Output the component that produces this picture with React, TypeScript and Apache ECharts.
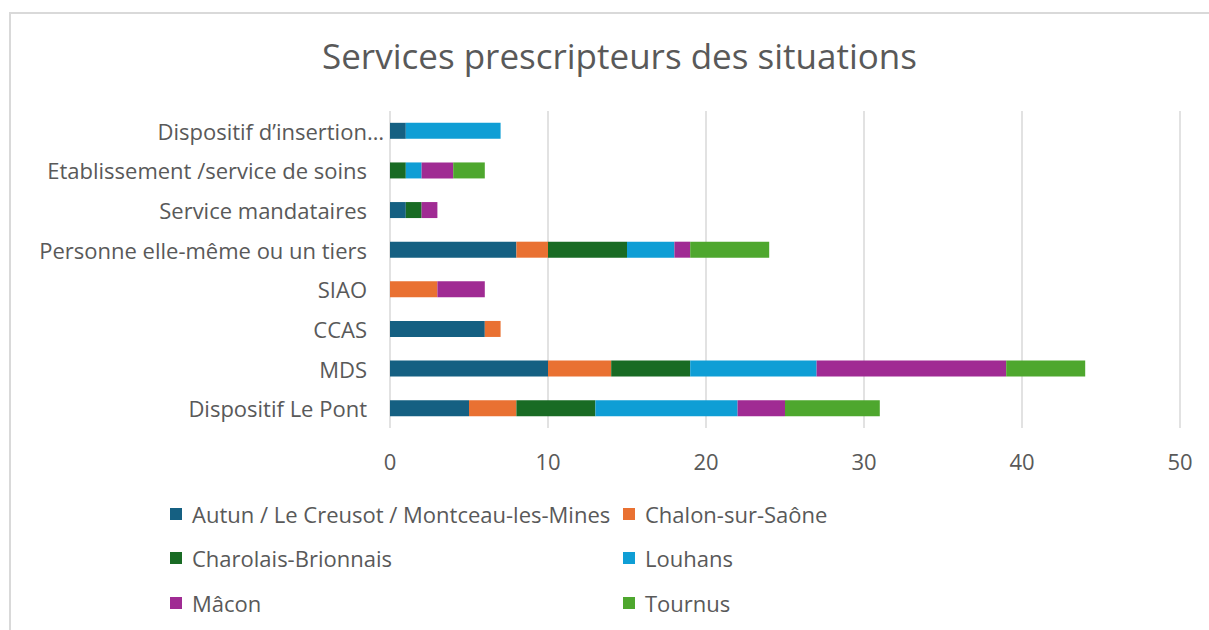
import React, { useEffect, useRef } from "react";
import * as echarts from "echarts";

const categories = [
  "Dispositif Le Pont",
  "MDS",
  "CCAS",
  "SIAO",
  "Personne elle-même ou un tiers",
  "Service mandataires",
  "Etablissement /service de soins",
  "Dispositif d’insertion…",
];

const seriesNames = [
  "Autun / Le Creusot / Montceau-les-Mines",
  "Chalon-sur-Saône",
  "Charolais-Brionnais",
  "Louhans",
  "Mâcon",
  "Tournus",
];

const autun = [5, 10, 6, 0, 8, 1, 0, 1];
const chalon = [3, 4, 1, 3, 2, 0, 0, 0];
const charolais = [5, 5, 0, 0, 5, 1, 1, 0];
const louhans = [9, 8, 0, 0, 3, 0, 1, 6];
const macon = [3, 12, 0, 3, 1, 1, 2, 0];
const tournus = [6, 5, 0, 0, 5, 0, 2, 0];

const seriesValues = [autun, chalon, charolais, louhans, macon, tournus];
const colors = ["#156082", "#E97132", "#196B24", "#0F9ED5", "#A02B93", "#4EA72E"];
const xTicks = [0, 10, 20, 30, 40, 50];

const FONT = "'Open Sans', sans-serif";
const TEXT = "#595959";

export default function App() {
  const ref = useRef<HTMLDivElement>(null);
  useEffect(() => {
    if (!ref.current) return;
    const chart = echarts.init(ref.current, undefined, { renderer: "svg" });
    const legendPos = [
      { left: 170, top: 503 },
      { left: 623, top: 503 },
      { left: 170, top: 547 },
      { left: 623, top: 547 },
      { left: 170, top: 592 },
      { left: 623, top: 592 },
    ];
    chart.setOption({
      animation: false,
      backgroundColor: "#ffffff",
      title: {
        text: "Services prescripteurs des situations",
        left: 317,
        top: 33,
        textStyle: { fontFamily: FONT, fontSize: 35, fontWeight: "normal", color: TEXT },
      },
      legend: seriesNames.map((n, i) => ({
        data: [n],
        left: legendPos[i].left,
        top: legendPos[i].top,
        icon: "rect",
        itemWidth: 12,
        itemHeight: 12,
        itemGap: 0,
        padding: 0,
        selectedMode: false,
        textStyle: { fontFamily: FONT, fontSize: 22, color: TEXT, padding: [0, 0, 0, 5] },
      })),
      grid: { left: 390, right: 29, top: 111, bottom: 202, containLabel: false },
      xAxis: {
        type: "value",
        min: xTicks[0],
        max: xTicks[xTicks.length - 1],
        interval: 10,
        axisLine: { show: false },
        axisTick: { show: false },
        splitLine: { show: true, lineStyle: { color: "#d9d9d9", width: 1.5 } },
        axisLabel: { margin: 22, fontFamily: FONT, fontSize: 22, color: TEXT },
      },
      yAxis: {
        type: "category",
        data: categories,
        axisLine: { show: false },
        axisTick: { show: false },
        axisLabel: {
          margin: 6,
          fontFamily: FONT,
          fontSize: 22,
          color: TEXT,
          formatter: (v: string) => (v.endsWith("…") ? "{t|" + v + "}" : "{n|" + v + "}"),
          rich: {
            t: { fontFamily: FONT, fontSize: 22, color: TEXT },
            n: { fontFamily: FONT, fontSize: 22, color: TEXT, padding: [0, 17, 0, 0] },
          },
        },
      },
      series: seriesNames.map((n, i) => ({
        name: n,
        type: "bar",
        stack: "total",
        data: seriesValues[i],
        barWidth: 16,
        itemStyle: { color: colors[i] },
      })),
    });
    return () => chart.dispose();
  }, []);
  return (
    <div style={{ position: "fixed", left: 0, top: 0, width: 1209, height: 630, background: "#fff" }}>
      <div ref={ref} style={{ position: "absolute", left: 0, top: 0, width: 1209, height: 630 }} />
      <div
        style={{
          position: "absolute",
          left: 9,
          top: 12,
          width: 1200,
          height: 618,
          borderLeft: "2px solid #d9d9d9",
          borderTop: "2px solid #d9d9d9",
          pointerEvents: "none",
        }}
      />
    </div>
  );
}
